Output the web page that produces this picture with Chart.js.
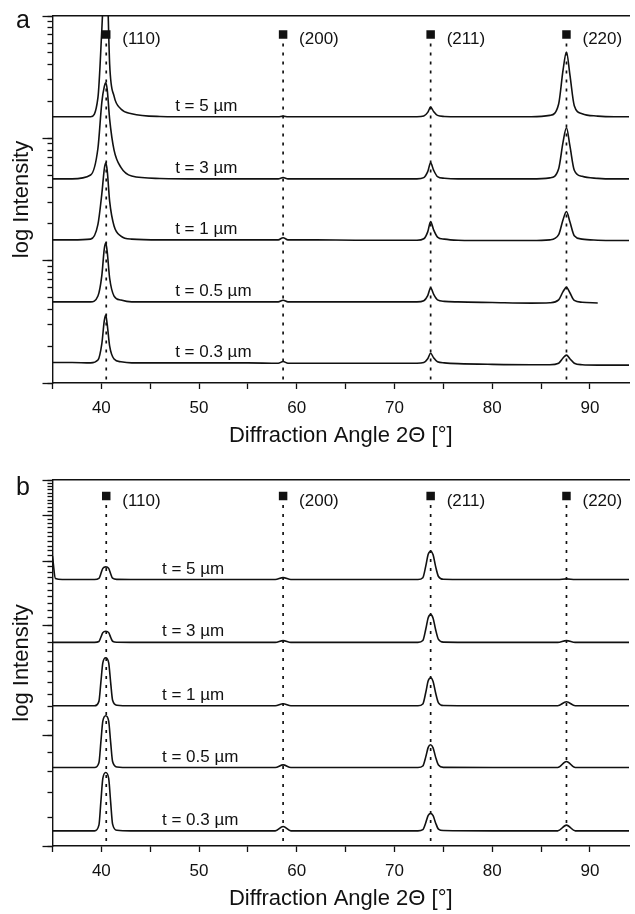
<!DOCTYPE html>
<html>
<head>
<meta charset="utf-8">
<script src="https://cdn.jsdelivr.net/npm/chart.js@4.4.1/dist/chart.umd.min.js"></script>
<style>
  html, body { margin: 0; padding: 0; background: #fff; }
  #wrap { position: relative; width: 635px; height: 914px; overflow: hidden; }
  canvas { position: absolute; left: 0; }
  .panel { position: absolute; left: 16px; font: 25px Arial, "Liberation Sans", sans-serif; line-height: 1; color: #111; }
</style>
</head>
<body>
<div id="wrap">
  <canvas id="chartA" width="635" height="457" style="top:0"></canvas>
  <canvas id="chartB" width="635" height="457" style="top:457px"></canvas>
  <div class="panel" style="top:7px">a</div>
  <div class="panel" style="top:474px">b</div>
</div>
<script>
const FONT = 'Arial, "Liberation Sans", sans-serif';

// diffraction angle 2θ of the sampled points
const angleA = [35, 37, 38.9, 39.65, 40.05, 40.3, 40.45, 40.6, 40.85, 41.3, 42.0, 43.1, 46, 50, 55,
  58.1, 58.6, 59.1, 62, 66, 70, 72.3, 73.0, 73.4, 73.7, 74.0, 74.4, 75.1, 76.5, 80, 84,
  85.9, 86.8, 87.25, 87.6, 87.95, 88.4, 89.2, 90.8, 92.5, 94];
const angleB = [35, 35.3, 36, 39.3, 39.75, 39.95, 40.15, 40.45, 40.75, 40.95, 41.15, 41.6, 43, 50,
  57.8, 58.6, 59.4, 66, 72.4, 72.9, 73.2, 73.45, 73.7, 73.95, 74.2, 74.5, 75.0, 80, 86.7, 87.6, 88.5, 94];

// panel a intensities (stacked, log axis)
const a_t5 = [150, 150, 150, 215, 780, 2094, 3000, 1914, 403, 221, 174, 159, 151, 150, 150,
  150, 152, 150, 150, 150, 150, 150, 152, 163, 180, 166, 154, 151, 150, 150, 150,
  154, 191, 361, 508, 332, 185, 159, 152, 150, 150];
const a_t3 = [46.6, 46.6, 50.1, 83.0, 197.9, 264.5, 284, 250.2, 143.0, 80.2, 57.9, 49.2, 47.0, 46.6, 46.6,
  46.6, 47.8, 46.6, 46.6, 46.6, 46.6, 46.6, 47.7, 53.4, 63, 55.0, 48.7, 47.2, 46.6, 46.6, 46.6,
  47.5, 56.5, 93.2, 122, 87.1, 54.9, 48.9, 47.1, 46.6, 46.6];
const a_t1 = [14.8, 14.8, 15.0, 19.8, 35.3, 56.1, 63, 54.5, 30.5, 19.2, 15.9, 15.0, 14.8, 14.8, 14.8,
  14.8, 15.4, 14.8, 14.8, 14.7, 14.7, 14.7, 15.1, 17.2, 20.9, 17.9, 15.6, 15.0, 14.7, 14.6, 14.6,
  14.8, 16.3, 21.6, 25.2, 20.8, 16.0, 15.0, 14.7, 14.6, 14.6];
const a_t05 = [4.6, 4.6, 4.6, 5.14, 7.59, 12.5, 14.0, 11.8, 7.18, 5.14, 4.76, 4.6, 4.6, 4.6, 4.6,
  4.6, 4.75, 4.6, 4.6, 4.6, 4.6, 4.6, 4.7, 5.18, 6.0, 5.32, 4.78, 4.65, 4.6, 4.55, 4.5,
  4.53, 4.78, 5.58, 6.07, 5.47, 4.73, 4.57, 4.51, null, null];
const a_t03 = [1.47, 1.47, 1.46, 1.54, 2.10, 3.23, 3.60, 3.01, 2.00, 1.57, 1.49, 1.46, 1.46, 1.46, 1.46,
  1.45, 1.5, 1.45, 1.45, 1.45, 1.45, 1.45, 1.47, 1.58, 1.75, 1.61, 1.49, 1.46, 1.44, 1.42, 1.41,
  1.41, 1.45, 1.60, 1.69, 1.58, 1.45, 1.41, 1.40, 1.40, 1.40];

// panel b intensities
const b_t5 = [3100, 2690, 2673, 2673, 2691, 2773, 2868, 2895, 2868, 2773, 2695, 2675, 2673, 2673,
  2673, 2705, 2673, 2673, 2673, 2704, 2908, 3132, 3195, 3122, 2908, 2725, 2678, 2673, 2673, 2685, 2673, 2673];
const b_t3 = [1800, 1800, 1800, 1800, 1810, 1859, 1914, 1930, 1914, 1859, 1813, 1801, 1800, 1800,
  1800, 1820, 1800, 1800, 1800, 1821, 1955, 2103, 2144, 2096, 1955, 1834, 1803, 1800, 1800, 1820, 1800, 1800];
const b_t1 = [1208, 1208, 1208, 1208, 1242, 1400, 1583, 1634, 1583, 1400, 1251, 1212, 1208, 1208,
  1208, 1224, 1208, 1208, 1208, 1222, 1313, 1413, 1441, 1408, 1313, 1231, 1210, 1208, 1208, 1239, 1208, 1208];
const b_t05 = [819, 819, 819, 819, 844, 961, 1097, 1135, 1097, 961, 851, 822, 819, 819,
  819, 833, 819, 819, 819, 827, 876, 930, 945, 927, 876, 832, 820, 819, 819, 851, 819, 819];
const b_t03 = [550, 550, 550, 550, 570, 660, 765, 794, 765, 660, 574, 552, 550, 550,
  550, 565, 550, 550, 550, 554, 579, 606, 614, 605, 579, 556, 551, 550, 550, 570, 550, 550];

const thickLabels = ['t = 5 µm', 't = 3 µm', 't = 1 µm', 't = 0.5 µm', 't = 0.3 µm'];
const baseA = [150, 46.6, 14.8, 4.6, 1.46];
const baseB = [2673, 1800, 1208, 819, 550];

const hklNames = ['(110)', '(200)', '(211)', '(220)'];
const hklAngles = [40.5, 58.6, 73.7, 87.6];

const xTicks = [35, 40, 45, 50, 55, 60, 65, 70, 75, 80, 85, 90];
const yTicksA = [1, 2, 3, 4, 5, 6, 7, 8, 9, 10, 20, 30, 40, 50, 60, 70, 80, 90,
  100, 200, 300, 400, 500, 600, 700, 800, 900, 1000];
const yMajorA = [1, 10, 100, 1000];
const yTicksB = [500, 600, 700, 800, 900, 1000, 1100, 1200, 1300, 1400, 1500, 1600, 1700, 1800, 1900,
  2000, 2100, 2200, 2300, 2400, 2500, 2600, 2700, 2800, 2900, 3000, 3100, 3200, 3300, 3400, 3500,
  3600, 3700, 3800, 3900, 4000, 4100, 4200, 4300, 4400, 4500, 4600, 4700, 4800, 4900, 5000];
const yMajorB = [500, 1000, 2000, 3000, 4000, 5000];

const annotate = {
  id: 'annotate',
  afterDatasetsDraw(chart, args, opts) {
    const {ctx, scales: {x, y}} = chart;
    ctx.save();
    ctx.fillStyle = '#111';
    ctx.font = '17px ' + FONT;
    ctx.textAlign = 'left';
    ctx.textBaseline = 'middle';
    hklNames.forEach((name, i) => {
      ctx.fillText(name, x.getPixelForValue(hklAngles[i]) + 16, y.getPixelForValue(opts.mark) + 5);
    });
    ctx.textBaseline = 'alphabetic';
    thickLabels.forEach((txt, i) => {
      ctx.fillText(txt, x.getPixelForValue(opts.labelAngle), y.getPixelForValue(opts.base[i]) - 6);
    });
    ctx.restore();
  }
};

function traceSets(xs, series) {
  return series.map(ys => ({
    data: xs.map((v, i) => ({x: v, y: ys[i]})),
    borderColor: '#111',
    borderWidth: 1.6,
    pointRadius: 0,
    cubicInterpolationMode: 'monotone',
    spanGaps: false
  }));
}

function markerSets(level, bottom) {
  const sets = hklAngles.map(a => ({
    data: [{x: a, y: level}, {x: a, y: bottom}],
    borderColor: '#111',
    borderWidth: 1.7,
    borderDash: [3, 6],
    pointRadius: 0
  }));
  sets.push({
    type: 'scatter',
    data: hklAngles.map(a => ({x: a, y: level})),
    pointStyle: 'rect',
    pointRadius: 6,
    backgroundColor: '#111',
    borderWidth: 0
  });
  return sets;
}

function makeChart(id, c) {
  return new Chart(document.getElementById(id), {
    type: 'line',
    data: {datasets: [...traceSets(c.xs, c.series), ...markerSets(c.mark, c.yMin)]},
    options: {
      responsive: false,
      animation: false,
      devicePixelRatio: 1,
      layout: {padding: {top: c.top, left: 0, right: 0, bottom: 0}},
      plugins: {
        legend: {display: false},
        tooltip: {enabled: false},
        annotate: {mark: c.mark, base: c.base, labelAngle: c.labelAngle}
      },
      scales: {
        x: {
          type: 'linear', position: 'bottom', min: 35, max: 94,
          afterBuildTicks: s => { s.ticks = xTicks.map(v => ({value: v})); },
          afterFit: s => { s.height = c.xHeight; },
          grid: {drawOnChartArea: false, tickLength: 6, tickColor: '#111', tickWidth: 1.3},
          border: {color: '#111', width: 1.4},
          ticks: {color: '#111', font: {size: 17, family: FONT}, padding: 9, maxRotation: 0, autoSkip: false,
            callback: v => (v % 10 === 0 ? v : '')},
          title: {display: true, text: 'Diffraction Angle 2Θ [°]', color: '#111',
            font: {size: 22, family: FONT}, padding: {top: 0, bottom: c.titlePad}}
        },
        xTop: {
          type: 'linear', position: 'top', min: 35, max: 94,
          afterFit: s => { s.height = 0; },
          grid: {display: false}, ticks: {display: false},
          border: {color: '#111', width: 1.4}
        },
        y: {
          type: 'logarithmic', position: 'left', min: c.yMin, max: c.yMax, weight: 1,
          afterBuildTicks: s => { s.ticks = c.yTicks.map(v => ({value: v})); },
          afterFit: s => { s.width = 52.5; },
          grid: {drawOnChartArea: false, tickLength: 5, tickColor: '#111', tickWidth: 1.3},
          border: {color: '#111', width: 1.4},
          ticks: {display: false},
          title: {display: true, text: 'log Intensity', color: '#111',
            font: {size: 22, family: FONT}, padding: {top: 9, bottom: 0}}
        },
        yMaj: {
          type: 'logarithmic', position: 'left', min: c.yMin, max: c.yMax, weight: 0,
          afterBuildTicks: s => { s.ticks = c.yMajor.map(v => ({value: v})); },
          afterFit: s => { s.width = 0; },
          grid: {drawOnChartArea: false, tickLength: 10, tickColor: '#111', tickWidth: 1.3},
          border: {display: false},
          ticks: {display: false}
        }
      }
    },
    plugins: [annotate]
  });
}

makeChart('chartA', {
  xs: angleA, series: [a_t5, a_t3, a_t1, a_t05, a_t03],
  yMin: 1, yMax: 1000, yTicks: yTicksA, yMajor: yMajorA,
  mark: 707, base: baseA, labelAngle: 47.55,
  top: 16, xHeight: 74, titlePad: 8
});

makeChart('chartB', {
  xs: angleB, series: [b_t5, b_t3, b_t1, b_t05, b_t03],
  yMin: 500, yMax: 5000, yTicks: yTicksB, yMajor: yMajorB,
  mark: 4518, base: baseB, labelAngle: 46.2,
  top: 23, xHeight: 68, titlePad: 2
});
</script>
</body>
</html>
